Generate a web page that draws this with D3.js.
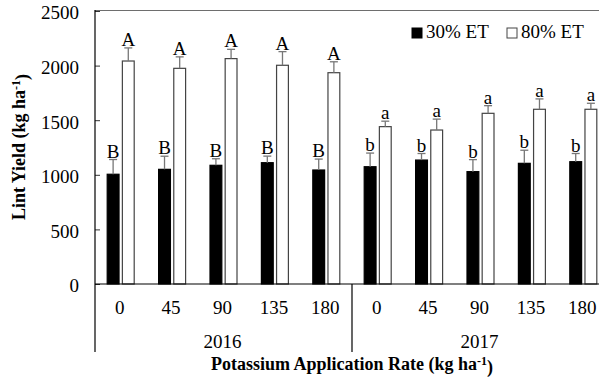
<!DOCTYPE html>
<html>
<head>
<meta charset="utf-8">
<script src="https://cdn.jsdelivr.net/npm/d3@7"></script>
<style>
  body { margin: 0; background: white; }
  svg text { font-family: "Liberation Serif", "Times New Roman", serif; fill: black; }
</style>
</head>
<body>
<script>
// Data
const years = ["2016", "2017"];
const rates = ["0", "45", "90", "135", "180"];
const series = ["30% ET", "80% ET"];

const et30 = [1005, 1050, 1087, 1111, 1044, 1074, 1135, 1029, 1105, 1120];
const et30Err = [135, 120, 60, 60, 100, 125, 60, 110, 120, 75];
const et30Letters = ["B", "B", "B", "B", "B", "b", "b", "b", "b", "b"];

const et80 = [2042, 1975, 2064, 2003, 1935, 1441, 1410, 1563, 1600, 1600];
const et80Err = [120, 105, 85, 125, 100, 50, 100, 70, 95, 55];
const et80Letters = ["A", "A", "A", "A", "A", "a", "a", "a", "a", "a"];

const yTicks = [0, 500, 1000, 1500, 2000, 2500];

// build rows
const groups = [];
years.forEach((y, yi) => rates.forEach((r, ri) => groups.push({year: y, rate: r, i: yi * rates.length + ri})));
const bars = [];
groups.forEach(g => {
    bars.push({i: g.i, s: series[0], v: et30[g.i], e: et30Err[g.i], l: et30Letters[g.i]});
    bars.push({i: g.i, s: series[1], v: et80[g.i], e: et80Err[g.i], l: et80Letters[g.i]});
});

const outerWidth = 599, outerHeight = 377;
const plotLeft = 95, plotRight = 609, plotTop = 11, plotBase = 284;
const serif = "'Liberation Serif', 'Times New Roman', serif";

const svg = d3.select("body").append("svg")
    .attr("width", outerWidth)
    .attr("height", outerHeight)
    .attr("font-family", serif);

const xScale = d3.scaleBand()
    .domain(groups.map(g => g.i))
    .range([plotLeft, plotRight])
    .padding(0);

const subScale = d3.scaleBand()
    .domain(series)
    .range([-13.5, 13.5])
    .paddingInner(0.22);

const yScale = d3.scaleLinear()
    .domain([0, 2500])
    .range([plotBase, plotTop]);

// top frame line
svg.append("line")
    .attr("x1", plotLeft).attr("x2", outerWidth)
    .attr("y1", plotTop - 0.5).attr("y2", plotTop - 0.5)
    .attr("stroke", "#6e6e6e").attr("stroke-width", 1.2);

// y axis
const yAxis = d3.axisLeft(yScale)
    .tickValues(yTicks)
    .tickFormat(d3.format("d"))
    .tickSizeInner(-5).tickSizeOuter(0).tickPadding(16);
const yAxisGroup = svg.append("g")
    .attr("transform", `translate(${plotLeft}, 0)`)
    .call(yAxis)
    .attr("font-family", serif)
    .attr("font-size", 19);
yAxisGroup.select(".domain").remove();
yAxisGroup.selectAll("line").attr("stroke", "#333");
yAxisGroup.selectAll("text")
    .attr("dy", "0.42em");

// bars
const center = i => xScale(i) + xScale.bandwidth() / 2;

svg.selectAll(".bar")
    .data(bars)
    .join("rect")
    .attr("class", "bar")
    .attr("x", d => center(d.i) + subScale(d.s))
    .attr("width", subScale.bandwidth())
    .attr("y", d => yScale(d.v))
    .attr("height", d => plotBase - yScale(d.v))
    .attr("fill", d => d.s === series[0] ? "black" : "white")
    .attr("stroke", d => d.s === series[0] ? "black" : "#444")
    .attr("stroke-width", 1.2);

// error bars (upward only)
const errX = d => center(d.i) + subScale(d.s) + subScale.bandwidth() / 2;
svg.selectAll(".err")
    .data(bars)
    .join("line")
    .attr("class", "err")
    .attr("x1", errX).attr("x2", errX)
    .attr("y1", d => yScale(d.v))
    .attr("y2", d => yScale(d.v + d.e))
    .attr("stroke", "#777").attr("stroke-width", 1.3);
svg.selectAll(".cap")
    .data(bars)
    .join("line")
    .attr("class", "cap")
    .attr("x1", d => errX(d) - 4).attr("x2", d => errX(d) + 4)
    .attr("y1", d => yScale(d.v + d.e))
    .attr("y2", d => yScale(d.v + d.e))
    .attr("stroke", "#777").attr("stroke-width", 1.3);

// letters
svg.selectAll(".letter")
    .data(bars)
    .join("text")
    .attr("class", "letter")
    .attr("x", errX)
    .attr("y", d => yScale(d.v + d.e) - 2)
    .attr("text-anchor", "middle")
    .attr("font-size", 19)
    .text(d => d.l);

// x axis baseline
svg.append("line")
    .attr("x1", plotLeft).attr("x2", outerWidth)
    .attr("y1", plotBase).attr("y2", plotBase)
    .attr("stroke", "black").attr("stroke-width", 1.2);

// left axis line (extends down to year row)
svg.append("line")
    .attr("x1", plotLeft).attr("x2", plotLeft)
    .attr("y1", plotTop - 1).attr("y2", 352)
    .attr("stroke", "black").attr("stroke-width", 1.2);

// year separators
const yearEdges = years.map((y, yi) => xScale(yi * rates.length)).concat([plotRight]);
svg.selectAll(".sep")
    .data(yearEdges.slice(1))
    .join("line")
    .attr("class", "sep")
    .attr("x1", d => d).attr("x2", d => d)
    .attr("y1", plotBase).attr("y2", 352)
    .attr("stroke", "black").attr("stroke-width", 1.2);

// rate labels
svg.selectAll(".rate")
    .data(groups)
    .join("text")
    .attr("class", "rate")
    .attr("x", d => center(d.i) - 1)
    .attr("y", 314)
    .attr("text-anchor", "middle")
    .attr("font-size", 19)
    .text(d => d.rate);

// year labels
svg.selectAll(".year")
    .data(years)
    .join("text")
    .attr("class", "year")
    .attr("x", (d, i) => (yearEdges[i] + yearEdges[i + 1]) / 2 - 1)
    .attr("y", 348)
    .attr("text-anchor", "middle")
    .attr("font-size", 19)
    .text(d => d);

// axis titles
const xLabel = svg.append("text")
    .attr("x", (plotLeft + plotRight) / 2)
    .attr("y", 370)
    .attr("text-anchor", "middle")
    .attr("font-size", 18)
    .attr("font-weight", "bold");
xLabel.append("tspan").text("Potassium Application Rate (kg ha");
xLabel.append("tspan").text("-1").attr("dy", "-0.45em").attr("font-size", 12);
xLabel.append("tspan").text(")").attr("dy", "0.45em");

const yLabel = svg.append("text")
    .attr("transform", "translate(25, 147) rotate(-90)")
    .attr("text-anchor", "middle")
    .attr("font-size", 18)
    .attr("font-weight", "bold");
yLabel.append("tspan").text("Lint Yield (kg ha");
yLabel.append("tspan").text("-1").attr("dy", "-0.45em").attr("font-size", 12);
yLabel.append("tspan").text(")").attr("dy", "0.45em");

// legend
const legend = svg.append("g").attr("transform", "translate(412, 28)");
series.forEach((s, i) => {
    const gx = i * 95;
    legend.append("rect")
        .attr("x", gx).attr("y", 0)
        .attr("width", 10).attr("height", 10)
        .attr("fill", i === 0 ? "black" : "white")
        .attr("stroke", i === 0 ? "black" : "#444");
    legend.append("text")
        .attr("x", gx + 14).attr("y", 10)
        .attr("font-size", 19)
        .text(s);
});
</script>
</body>
</html>
